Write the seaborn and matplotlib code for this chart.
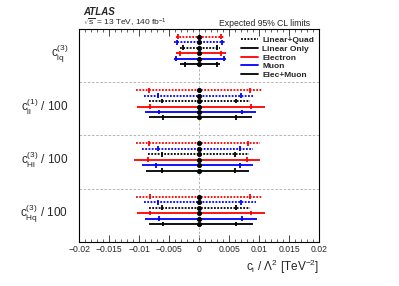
import numpy as np
import pandas as pd
import matplotlib
matplotlib.use("Agg")
import matplotlib.pyplot as plt
from matplotlib.lines import Line2D
import seaborn as sns

# ---------------- data ----------------
coefficients = [r"$\mathregular{c_{lq}^{(3)}}$",
                r"$\mathregular{c_{ll}^{(1)}}$ / 100",
                r"$\mathregular{c_{Hl}^{(3)}}$ / 100",
                r"$\mathregular{c_{Hq}^{(3)}}$ / 100"]
# rows in each block: (channel, fit)
row_channel = ["Electron", "Muon", "Elec+Muon", "Electron", "Muon", "Elec+Muon"]
row_fit = ["Linear+Quad", "Linear+Quad", "Linear+Quad", "Linear Only", "Linear Only", "Linear Only"]

# 95% CL interval (outer ends)
lo95 = [
    [-0.0039, -0.00426, -0.00326, -0.0038, -0.00426, -0.00326],
    [-0.01049, -0.00921, -0.00838, -0.01032, -0.00905, -0.00838],
    [-0.0106, -0.0096, -0.00855, -0.01089, -0.0096, -0.00882],
    [-0.01049, -0.0092, -0.00843, -0.01032, -0.0091, -0.00838],
]
hi95 = [
    [0.0042, 0.00426, 0.00342, 0.00454, 0.00454, 0.00342],
    [0.01052, 0.00915, 0.00843, 0.01097, 0.00954, 0.00885],
    [0.0102, 0.0090, 0.00832, 0.0101, 0.0090, 0.00832],
    [0.01052, 0.00955, 0.00843, 0.01097, 0.0097, 0.0089],
]
# 68% CL interval (inner ticks)
lo68 = [
    [-0.0035, -0.00364, -0.0027, -0.00326, -0.0038, -0.0024],
    [-0.00838, -0.00686, -0.00614, -0.00815, -0.00674, -0.00598],
    [-0.00838, -0.00696, -0.00614, -0.00855, -0.00715, -0.00626],
    [-0.00827, -0.00688, -0.00614, -0.00815, -0.00676, -0.00598],
]
hi68 = [
    [0.0037, 0.00387, 0.0029, 0.0037, 0.0041, 0.0030],
    [0.00843, 0.00694, 0.0062, 0.0086, 0.0071, 0.0062],
    [0.00811, 0.00676, 0.00598, 0.00798, 0.00676, 0.00593],
    [0.00843, 0.00694, 0.0062, 0.0086, 0.00715, 0.0062],
]
central = [[0.0] * 6 for _ in range(4)]

channel_colors = {"Electron": "#ff0000", "Muon": "#0000ff", "Elec+Muon": "#000000"}
fit_styles = {"Linear+Quad": (0, (1.0, 0.8)), "Linear Only": "-"}

records = []
for i, coef in enumerate(coefficients):
    for k in range(6):
        records.append(dict(coef=coef, block=i, row=k,
                            y=i + 0.15 + 0.1025 * k,
                            channel=row_channel[k], fit=row_fit[k],
                            lo95=lo95[i][k], hi95=hi95[i][k],
                            lo68=lo68[i][k], hi68=hi68[i][k],
                            central=central[i][k]))
df = pd.DataFrame(records)

# ---------------- plot ----------------
sns.set_theme(style="ticks")
plt.rcParams["font.family"] = ["Liberation Sans", "DejaVu Sans"]
plt.rcParams["mathtext.fontset"] = "custom"
plt.rcParams["mathtext.rm"] = "Liberation Sans"
plt.rcParams["mathtext.it"] = "Liberation Sans:italic"
plt.rcParams["mathtext.bf"] = "Liberation Sans:bold"

fig = plt.figure(figsize=(3.99, 2.86), dpi=100)
ax = fig.add_axes([0.199, 0.154, 0.6005, 0.745])

for _, r in df.iterrows():
    col = channel_colors[r["channel"]]
    ls = fit_styles[r["fit"]]
    ax.hlines(r["y"], r["lo95"], r["hi95"], colors=col, linestyles=ls, linewidth=1.3, zorder=3)
    ax.vlines([r["lo68"], r["hi68"]], r["y"] - 0.045, r["y"] + 0.045, colors=col, linewidth=1.3, zorder=4)

sns.scatterplot(data=df, x="central", y="y", color="black", s=10, marker="o",
                edgecolor="black", linewidth=0.5, zorder=5, ax=ax, legend=False)

# separators
for b in [1, 2, 3]:
    ax.axhline(b, color="#aaaaaa", linestyle=(0, (3, 2)), linewidth=0.6, zorder=1)
ax.axvline(0, color="#aaaaaa", linestyle=(0, (3, 2)), linewidth=0.6, zorder=1)

ax.set_xlim(-0.02, 0.02)
ax.set_ylim(4, 0)
ax.set_xticks(np.arange(-0.02, 0.0201, 0.005))
ax.set_xticklabels(["\u22120.02", "\u22120.015", "\u22120.01", "\u22120.005", "0",
                    "0.005", "0.01", "0.015", "0.02"], fontsize=6.2)
ax.set_xticks(np.arange(-0.02, 0.0201, 0.001), minor=True)
ax.tick_params(axis="x", which="major", direction="in", length=5, width=0.6,
               top=True, bottom=True, pad=2)
ax.tick_params(axis="x", which="minor", direction="in", length=2.5, width=0.5,
               top=True, bottom=True)
label_y = [i + 0.15 + 0.1025 * 2.5 for i in range(4)]
ax.set_yticks(label_y)
ax.set_yticklabels(coefficients, fontsize=8.5)
ax.tick_params(axis="y", length=0, pad=8)
for s in ax.spines.values():
    s.set_linewidth(0.8)
    s.set_color("black")

ax.set_xlabel(r"$\mathregular{c_i}$ / $\mathregular{\Lambda^2}$ [TeV$\mathregular{^{-2}}$]",
              fontsize=8.5, loc="right", labelpad=3)
ax.set_ylabel("")

# legend
handles = [Line2D([], [], color="black", linestyle=(0, (1.0, 0.8)), linewidth=1.3),
           Line2D([], [], color="black", linestyle="-", linewidth=1.3),
           Line2D([], [], color="#ff0000", linestyle="-", linewidth=1.3),
           Line2D([], [], color="#0000ff", linestyle="-", linewidth=1.3),
           Line2D([], [], color="black", linestyle="-", linewidth=1.3)]
labels = ["Linear+Quad", "Linear Only", "Electron", "Muon", "Elec+Muon"]
leg = ax.legend(handles, labels, loc="upper right", bbox_to_anchor=(1.0, 0.99),
                frameon=False, fontsize=6, handlelength=2.0, handletextpad=0.5,
                labelspacing=0.12, borderaxespad=0.2,
                prop={"weight": "bold", "size": 6})

# header text
fig.text(0.208, 0.958, "ATLAS", fontsize=7, fontweight="bold", fontstyle="italic",
         ha="left", va="center")
fig.text(0.208, 0.918, r"$\sqrt{\mathregular{s}}$ = 13 TeV, 140 fb$\mathregular{^{-1}}$",
         fontsize=6, ha="left", va="center")
fig.text(0.778, 0.918, "Expected 95% CL limits", fontsize=6.2, ha="right", va="center")

fig.savefig("out.png", dpi=100)
